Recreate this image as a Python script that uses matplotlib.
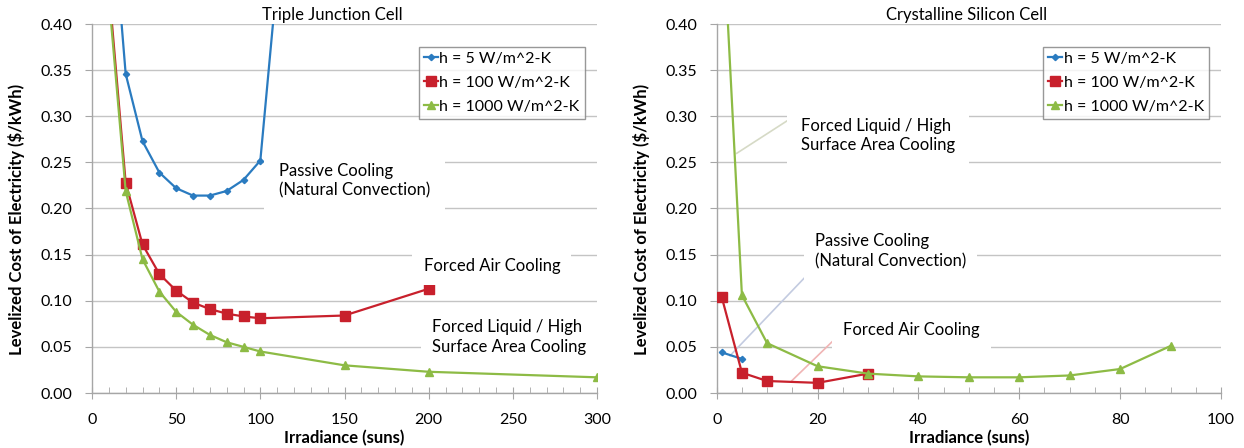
import matplotlib
matplotlib.use("Agg")
import matplotlib.pyplot as plt
from matplotlib.ticker import MultipleLocator, FormatStrFormatter

plt.rcParams['font.family'] = ['Lato', 'DejaVu Sans']

# ---- Data: Triple Junction Cell ----
tj_x_h5 = [10, 20, 30, 40, 50, 60, 70, 80, 90, 100, 150]
tj_y_h5 = [0.57, 0.346, 0.273, 0.239, 0.222, 0.214, 0.214, 0.219, 0.231, 0.252, 1.24]
tj_x_h100 = [10, 20, 30, 40, 50, 60, 70, 80, 90, 100, 150, 200]
tj_y_h100 = [0.44, 0.228, 0.161, 0.129, 0.111, 0.098, 0.091, 0.086, 0.083, 0.081, 0.084, 0.113]
tj_x_h1000 = [10, 20, 30, 40, 50, 60, 70, 80, 90, 100, 150, 200, 300]
tj_y_h1000 = [0.43, 0.219, 0.145, 0.110, 0.088, 0.074, 0.063, 0.055, 0.050, 0.045, 0.030, 0.023, 0.017]

# ---- Data: Crystalline Silicon Cell ----
cs_x_h5 = [1, 5]
cs_y_h5 = [0.044, 0.037]
cs_x_h100 = [1, 5, 10, 20, 30]
cs_y_h100 = [0.104, 0.022, 0.013, 0.011, 0.021]
cs_x_h1000 = [1, 5, 10, 20, 30, 40, 50, 60, 70, 80, 90]
cs_y_h1000 = [0.53, 0.106, 0.054, 0.029, 0.021, 0.018, 0.017, 0.017, 0.019, 0.026, 0.051]

series_labels = ["h = 5 W/m^2-K", "h = 100 W/m^2-K", "h = 1000 W/m^2-K"]
colors = ["#2a7bc0", "#c8202c", "#8dbb45"]
markers = ["D", "s", "^"]
msizes = [3.2, 6.5, 6]

fig = plt.figure(figsize=(12.44, 4.48), dpi=100)
ax1 = fig.add_axes([92/1244, 1-393/448, 505/1244, 369/448])
ax2 = fig.add_axes([716.7/1244, 1-393/448, 504.3/1244, 369/448])

grid_c = "#c4c4c4"
axis_c = "#a6a6a6"
FS = 12
TFS = 11.5

def style(ax, xmax, major, minor):
    ax.set_xlim(0, xmax)
    ax.set_ylim(0, 0.40)
    ax.yaxis.set_major_locator(MultipleLocator(0.05))
    ax.yaxis.set_major_formatter(FormatStrFormatter('%.2f'))
    ax.xaxis.set_major_locator(MultipleLocator(major))
    ax.xaxis.set_minor_locator(MultipleLocator(minor))
    for s in ['top', 'right']:
        ax.spines[s].set_visible(False)
    for s in ['left', 'bottom']:
        ax.spines[s].set_color(axis_c)
        ax.spines[s].set_linewidth(1)
    ax.grid(axis='y', color=grid_c, linewidth=1, zorder=0)
    ax.set_axisbelow(True)
    ax.tick_params(axis='y', direction='out', length=5, color=axis_c, labelsize=TFS, pad=9)
    ax.tick_params(axis='x', which='major', direction='inout', length=9, color=axis_c, labelsize=TFS, pad=10)
    ax.tick_params(axis='x', which='minor', direction='in', length=4, color=axis_c)
    ax.set_xlabel("Irradiance (suns)", fontsize=12, fontweight='bold', labelpad=2)
    ax.set_ylabel("Levelized Cost of Electricity ($/kWh)", fontsize=12, fontweight='bold')
    ax.yaxis.set_label_coords(-0.133, 0.47)

def plot_series(ax, xs, ys):
    for x, y, lab, c, m, ms in zip(xs, ys, series_labels, colors, markers, msizes):
        ax.plot(x, y, color=c, marker=m, markersize=ms, linewidth=1.6, label=lab, zorder=3, clip_on=True)
    leg = ax.legend(loc='upper left', bbox_to_anchor=(0.647, 0.938), fontsize=11.5,
                    frameon=True, fancybox=False, handlelength=0.9, handletextpad=0.1,
                    borderpad=0.3, labelspacing=0.62, borderaxespad=0)
    leg.get_frame().set_edgecolor("#7f7f7f")
    leg.get_frame().set_linewidth(1)
    leg.set_zorder(5)

style(ax1, 300, 50, 10)
style(ax2, 100, 20, 5)

plot_series(ax1, [tj_x_h5, tj_x_h100, tj_x_h1000], [tj_y_h5, tj_y_h100, tj_y_h1000])
plot_series(ax2, [cs_x_h5, cs_x_h100, cs_x_h1000], [cs_y_h5, cs_y_h100, cs_y_h1000])

# Titles
ax1.text(142.5, 0.401, "Triple Junction Cell", fontsize=FS, ha='center', va='bottom', zorder=4)
ax2.text(49.6, 0.401, "Crystalline Silicon Cell", fontsize=FS, ha='center', va='bottom', zorder=4)

# Left annotations
ax1.text(111, 0.230, "Passive Cooling\n(Natural Convection)", fontsize=FS, ha='left', va='center',
         linespacing=1.3, zorder=4, bbox=dict(facecolor='white', edgecolor='none', pad=11))
ax1.text(197, 0.1377, "Forced Air Cooling", fontsize=FS, ha='left', va='center', zorder=4,
         bbox=dict(facecolor='white', edgecolor='none', pad=8))
ax1.text(202, 0.0609, "Forced Liquid / High\nSurface Area Cooling", fontsize=FS, ha='left', va='center',
         linespacing=1.3, zorder=4, bbox=dict(facecolor='white', edgecolor='none', pad=8))

# Right annotations
ax2.text(16.7, 0.2791, "Forced Liquid / High\nSurface Area Cooling", fontsize=FS, ha='left', va='center',
         linespacing=1.3, zorder=4, bbox=dict(facecolor='white', edgecolor='none', pad=10))
ax2.text(19.5, 0.1534, "Passive Cooling\n(Natural Convection)", fontsize=FS, ha='left', va='center',
         linespacing=1.3, zorder=4, bbox=dict(facecolor='white', edgecolor='none', pad=8))
ax2.text(25.0, 0.0683, "Forced Air Cooling", fontsize=FS, ha='left', va='center', zorder=4,
         bbox=dict(facecolor='white', edgecolor='none', pad=8))

# Leader lines
ax2.plot([3.96, 14.2], [0.2598, 0.2959], color="#d6dac6", linewidth=1.2, zorder=2)
ax2.plot([2.64, 17.5], [0.0404, 0.1254], color="#c3cbe0", linewidth=1.2, zorder=2)
ax2.plot([14.9, 23.8], [0.0133, 0.0604], color="#f0b4b4", linewidth=1.2, zorder=2)

fig.savefig("out.png", dpi=100, facecolor='white')
